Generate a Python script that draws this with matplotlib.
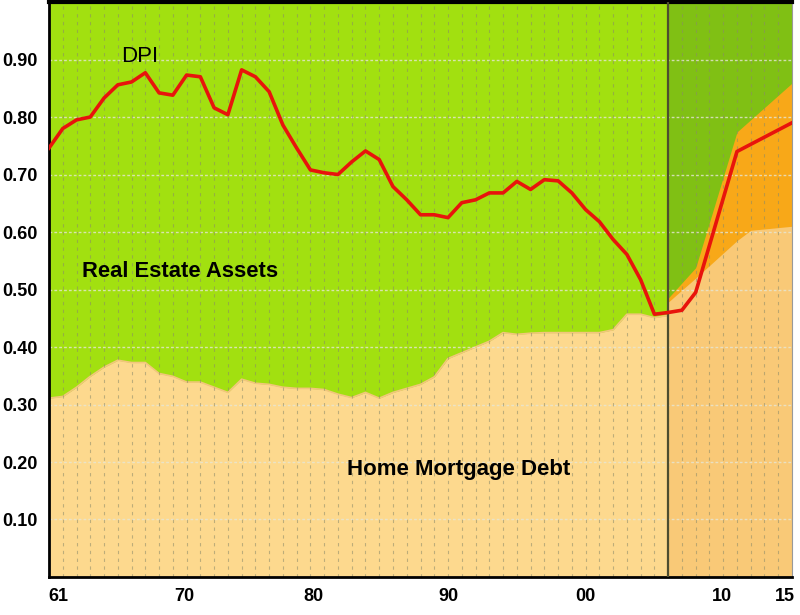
import numpy as np
import matplotlib
matplotlib.use('Agg')
import matplotlib.pyplot as plt

plt.rcParams['font.family'] = ['Liberation Sans', 'DejaVu Sans']

# historical series, 1961-2006 (ratio to real estate assets)
hist_years = list(range(1961, 2007))
mortgage = [0.311, 0.314, 0.330, 0.349, 0.365, 0.377, 0.373, 0.373, 0.354, 0.349,
            0.339, 0.339, 0.330, 0.321, 0.344, 0.337, 0.335, 0.330, 0.328, 0.328,
            0.326, 0.318, 0.312, 0.321, 0.311, 0.321, 0.328, 0.335, 0.348, 0.380,
            0.390, 0.400, 0.410, 0.425, 0.422, 0.424, 0.425, 0.425, 0.425, 0.425,
            0.425, 0.430, 0.457, 0.457, 0.451, 0.455]

# DPI line runs through the projection period
dpi_years = list(range(1961, 2009)) + [2011, 2015]
dpi = [0.746, 0.780, 0.795, 0.800, 0.833, 0.856, 0.861, 0.877, 0.842, 0.838,
       0.873, 0.870, 0.816, 0.804, 0.882, 0.870, 0.844, 0.786, 0.746, 0.708,
       0.703, 0.700, 0.722, 0.741, 0.726, 0.679, 0.656, 0.630, 0.630, 0.625,
       0.651, 0.656, 0.668, 0.668, 0.688, 0.674, 0.691, 0.689, 0.668, 0.639,
       0.618, 0.587, 0.561, 0.517, 0.457, 0.460, 0.464, 0.495, 0.740, 0.790]

# projection period
proj_split = 2006
mort_proj_years = [2006, 2008, 2011, 2012, 2015]
mort_proj = [0.478, 0.520, 0.585, 0.603, 0.610]
upper_proj_years = [2006, 2008, 2011, 2015]
upper_proj = [0.485, 0.538, 0.774, 0.859]

xlabels = ['61', '70', '80', '90', '00', '10', '15']
xlabel_pos = [1961.7, 1970.8, 1980.2, 1990.0, 2000.0, 2009.9, 2014.5]
yticks = [0.1, 0.2, 0.3, 0.4, 0.5, 0.6, 0.7, 0.8, 0.9]

fig = plt.figure(figsize=(8, 6.15), dpi=100)
ax = fig.add_axes([0.06125, 0.0618, 0.92875, 0.9349])

# backgrounds (real estate assets)
ax.axvspan(1961, proj_split, color='#a2e010', lw=0, zorder=0)
ax.axvspan(proj_split, 2015, color='#80c014', lw=0, zorder=0)

# mortgage debt
ax.fill_between(hist_years, 0, mortgage, color='#fdd98e', lw=0, zorder=1)
ax.plot(hist_years, mortgage, color='#f2c67c', lw=1.2, zorder=1)
ax.fill_between(upper_proj_years, 0, upper_proj, color='#f8a818', lw=0, zorder=1)
ax.fill_between(mort_proj_years, 0, mort_proj, color='#f9c977', lw=0, zorder=1)

# grid
for yv in yticks:
    ax.axhline(yv, color='#e6e6d6', lw=1.0, ls=(0, (2, 1.5)), alpha=0.8, zorder=2)
for yr in range(1962, 2015):
    ax.axvline(yr, color='#8a8a6a', lw=0.8, ls=(0, (3, 4)), alpha=0.55, zorder=2)

ax.axvline(proj_split, color='#4d4d30', lw=1.6, zorder=3)

ax.plot(dpi_years, dpi, color='#e8140c', lw=2.6, zorder=4)

ax.text(1967.6, 0.905, 'DPI', fontsize=16, ha='center', va='center', zorder=5)
ax.text(1970.5, 0.531, 'Real Estate Assets', fontsize=15.8, fontweight='bold',
        ha='center', va='center', zorder=5)
ax.text(1990.8, 0.1875, 'Home Mortgage Debt', fontsize=16, fontweight='bold',
        ha='center', va='center', zorder=5)

ax.set_xlim(1961, 2015)
ax.set_ylim(0, 1.0)
ax.set_yticks(yticks)
ax.set_yticklabels(['%.2f' % v for v in yticks], fontsize=13, fontweight='bold')
ax.set_xticks(xlabel_pos)
ax.set_xticklabels(xlabels, fontsize=13, fontweight='bold')
ax.tick_params(length=0, pad=8)

for side in ['left', 'bottom']:
    ax.spines[side].set_linewidth(2)
ax.spines['top'].set_linewidth(3)
ax.spines['right'].set_color('#999999')
ax.spines['right'].set_linewidth(0.8)

plt.savefig('out.png', dpi=100)
